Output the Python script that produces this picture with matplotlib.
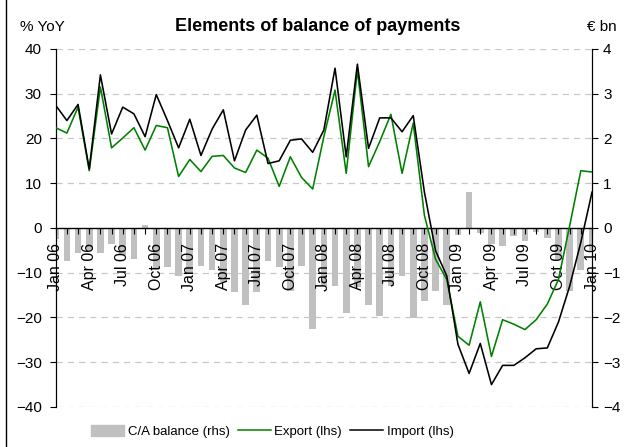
import numpy as np
import matplotlib
matplotlib.use('Agg')
import matplotlib.pyplot as plt
from matplotlib.patches import Patch, Rectangle
from matplotlib.lines import Line2D

plt.rcParams['font.family'] = ['Liberation Sans', 'DejaVu Sans']

# monthly, Jan 06 .. Jan 10
meses = ['Jan', 'Feb', 'Mar', 'Apr', 'May', 'Jun', 'Jul', 'Aug', 'Sep', 'Oct', 'Nov', 'Dec']
rotulos = [f'{meses[i % 12]} {6 + i // 12:02d}' for i in range(49)]

export_yoy = [22.4, 21.2, 27.0, 12.8, 31.5, 17.9, 20.1, 22.4, 17.4, 22.9,
              22.4, 11.5, 15.3, 12.6, 16.0, 16.2, 13.4, 12.4, 17.4, 15.6,
              9.3, 15.9, 11.3, 8.7, 20.4, 30.8, 12.2, 35.3, 13.7, 19.3,
              25.4, 12.2, 23.4, 2.8, -7.0, -11.5, -24.2, -26.2, -16.5, -28.7,
              -20.5, -21.5, -22.7, -20.5, -17.0, -11.5, 0.5, 12.8, 12.5]

import_yoy = [27.4, 24.0, 27.6, 13.2, 34.2, 21.0, 27.0, 25.5, 20.4, 29.8,
              24.0, 17.9, 24.3, 16.2, 22.1, 26.4, 15.0, 21.9, 25.2, 14.4,
              15.0, 19.6, 19.9, 16.9, 21.9, 35.7, 15.9, 36.6, 17.8, 24.6,
              24.6, 21.5, 25.1, 8.0, -5.1, -10.7, -26.0, -32.5, -25.8, -35.0,
              -30.7, -30.7, -29.0, -27.0, -26.8, -21.0, -13.0, -3.2, 8.0]

ca_balance = [-0.25, -0.73, -0.57, -0.50, -0.55, -0.35, -0.60, -0.69, 0.07, -0.90,
              -0.88, -1.07, -1.00, -0.84, -0.94, -1.20, -1.44, -1.72, -1.44, -0.73,
              -0.88, -1.40, -0.84, -2.25, -1.30, -1.29, -1.90, -1.33, -1.72, -1.96,
              -1.30, -1.07, -2.02, -1.63, -1.40, -1.72, -0.15, 0.80, -0.11, -0.36,
              -0.40, -0.19, -0.30, -0.08, -0.23, -0.70, -1.40, -0.94, -0.50]

x = np.arange(len(rotulos))

fig = plt.figure(figsize=(6.26, 4.47), dpi=100)
ax = fig.add_axes([0.089, 0.0895, 0.8567, 0.801])
ax2 = ax.twinx()

# barras no eixo direito, atras das linhas
ax2.bar(x, ca_balance, width=0.6, color='#c0c0c0', zorder=2)
ax2.set_ylim(-4, 4)
ax2.set_yticks(range(-4, 5))
ax2.tick_params(axis='y', direction='out', length=4, labelsize=11, pad=4)

ax.set_zorder(ax2.get_zorder() + 1)
ax.patch.set_visible(False)

for y in range(-40, 41, 10):
    if y != 0:
        ax.axhline(y, color='#c8c8c8', lw=0.9, ls=(0, (5, 4)), zorder=0)

ax.plot(x, export_yoy, color='#008000', lw=1.15, zorder=3)
ax.plot(x, import_yoy, color='black', lw=1.15, zorder=4)

ax.set_xlim(0, 48)
ax.set_ylim(-40, 40)
ax.set_yticks(range(-40, 41, 10))
ax.tick_params(axis='y', direction='out', length=4, labelsize=11, pad=6)

ax.spines['bottom'].set_position(('data', 0))
ax.spines['bottom'].set_linewidth(1.0)
ax.spines['top'].set_visible(False)
ax2.spines['top'].set_visible(False)
ax2.spines['bottom'].set_visible(False)
ax.set_xticks(x)
ax.set_xticklabels([r if i % 3 == 0 else '' for i, r in enumerate(rotulos)], rotation=90)
ax.tick_params(axis='x', direction='out', length=4, labelsize=11.5, pad=7)

fig.text(0.508, 0.94, 'Elements of balance of payments', ha='center', va='center',
         fontsize=13, fontweight='bold')
fig.text(0.032, 0.94, '% YoY', ha='left', va='center', fontsize=11)
fig.text(0.938, 0.94, '€ bn', ha='left', va='center', fontsize=11)

handles = [Patch(color='#c0c0c0'),
           Line2D([], [], color='#008000', lw=1.1),
           Line2D([], [], color='black', lw=1.1)]
fig.legend(handles, ['C/A balance (rhs)', 'Export (lhs)', 'Import (lhs)'],
           loc='center', bbox_to_anchor=(0.435, 0.034), ncol=3, frameon=False,
           fontsize=9.5, handlelength=2.5, handleheight=0.8, handletextpad=0.3,
           columnspacing=0.6)

fig.patches.append(Rectangle((0.01, -0.1), 1.2, 1.3, transform=fig.transFigure,
                             fill=False, edgecolor='black', lw=1))

fig.savefig('out.png', dpi=100)
